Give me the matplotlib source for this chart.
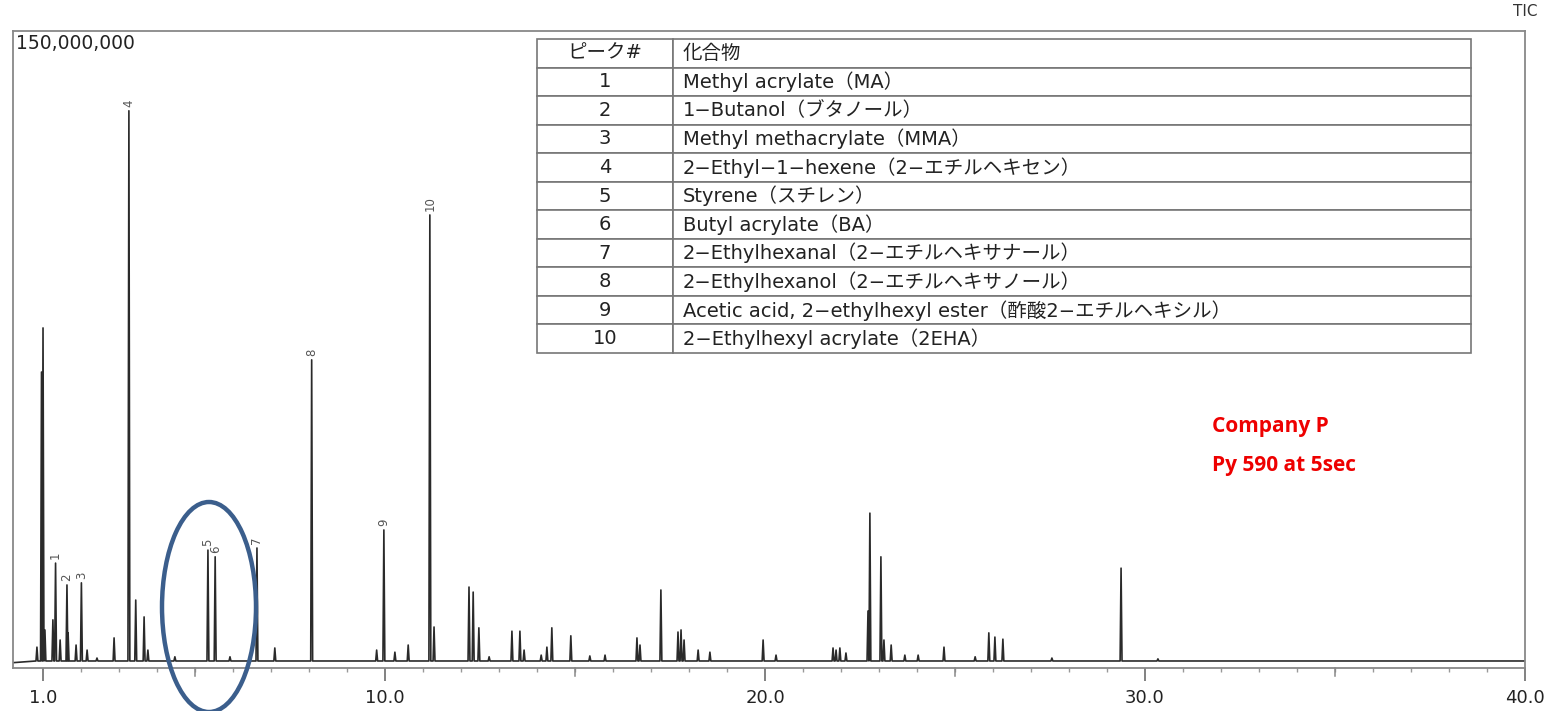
import matplotlib
matplotlib.use("Agg")
import matplotlib.pyplot as plt
from matplotlib.patches import Ellipse
from matplotlib.ticker import FixedLocator, FuncFormatter

plt.rcParams['font.family'] = ['DejaVu Sans', 'Noto Sans CJK JP']

# labelled peaks (retention time in min, TIC counts)
label_rt = [1.33, 1.63, 2.01, 3.26, 5.34, 5.53, 6.63, 8.07, 9.97, 11.18]
label_h = [23.3e6, 18.1e6, 18.6e6, 131.0e6, 26.4e6, 24.8e6, 26.9e6, 71.7e6, 31.2e6, 106.2e6]
label_num = ['1', '2', '3', '4', '5', '6', '7', '8', '9', '10']

# other peaks
other_rt = [0.84, 0.96, 1.00, 1.05, 1.26, 1.45, 1.66, 1.87, 2.16, 2.42, 2.87, 3.44, 3.66,
            3.76, 4.47, 5.92, 7.10, 9.78, 10.26, 10.61, 11.29, 12.21, 12.32, 12.47, 12.74,
            13.34, 13.55, 13.66, 14.11, 14.26, 14.39, 14.89, 15.39, 15.79, 16.63, 16.71,
            17.26, 17.71, 17.79, 17.87, 18.24, 18.55, 19.95, 20.29, 21.79, 21.87, 21.97,
            22.13, 22.71, 22.76, 23.05, 23.13, 23.32, 23.68, 24.03, 24.71, 25.53, 25.89,
            26.05, 26.26, 27.55, 29.37, 30.34]
other_h = [3.3e6, 68.8e6, 79.3e6, 7.4e6, 9.8e6, 5.0e6, 6.7e6, 3.8e6, 2.6e6, 0.7e6, 5.5e6,
           14.5e6, 10.5e6, 2.6e6, 1.0e6, 1.0e6, 3.1e6, 2.6e6, 2.1e6, 3.8e6, 8.1e6, 17.6e6,
           16.4e6, 7.9e6, 1.0e6, 7.1e6, 7.1e6, 2.6e6, 1.4e6, 3.3e6, 7.9e6, 6.0e6, 1.2e6,
           1.4e6, 5.5e6, 3.8e6, 16.9e6, 6.9e6, 7.4e6, 5.0e6, 2.6e6, 2.1e6, 5.0e6, 1.4e6,
           3.1e6, 2.6e6, 3.1e6, 1.9e6, 11.9e6, 35.2e6, 24.8e6, 5.0e6, 3.8e6, 1.4e6, 1.4e6,
           3.3e6, 1.0e6, 6.7e6, 5.7e6, 5.2e6, 0.7e6, 22.1e6, 0.5e6]

compounds = ['Methyl acrylate（MA）',
             '1−Butanol（ブタノール）',
             'Methyl methacrylate（MMA）',
             '2−Ethyl−1−hexene（2−エチルヘキセン）',
             'Styrene（スチレン）',
             'Butyl acrylate（BA）',
             '2−Ethylhexanal（2−エチルヘキサナール）',
             '2−Ethylhexanol（2−エチルヘキサノール）',
             'Acetic acid, 2−ethylhexyl ester（酢酸2−エチルヘキシル）',
             '2−Ethylhexyl acrylate（2EHA）']
header = ['ピーク#', '化合物']

# build the trace from the peak list
peaks = sorted(zip(label_rt + other_rt, label_h + other_h))
w = 0.025
xs = [0.21]
ys = [-0.4e6]
for t, h in peaks:
    xs += [t - w, t, t + w]
    ys += [0, h, 0]
xs.append(40.0)
ys.append(0)

fig = plt.figure(figsize=(15.51, 7.11), dpi=100)
ax = fig.add_axes([13 / 1551, (711 - 668) / 711, (1525 - 13) / 1551, (668 - 31) / 711])
ax.plot(xs, ys, color='#2a2a2a', lw=1.2)

for t, h, n in zip(label_rt, label_h, label_num):
    ax.text(t, h + 1.0e6, n, rotation=90, ha='center', va='bottom', fontsize=8.5, color='#555555')

ax.set_xlim(0.21, 40.0)
ax.set_ylim(-1.67e6, 150e6)

ax.xaxis.set_major_locator(FixedLocator([1, 10, 20, 30, 40]))
ax.xaxis.set_major_formatter(FuncFormatter(lambda v, p: f'{v:.1f}'))
ax.xaxis.set_minor_locator(FixedLocator([v for v in range(2, 40) if v % 10 != 0]))
ax.tick_params(axis='x', which='major', length=9, width=1.3, color='#777777',
               labelsize=13, labelcolor='#222222', pad=6)
ax.tick_params(axis='x', which='minor', length=3, width=1.0, color='#999999')
for t in [5, 15, 25, 35]:
    ax.plot([t, t], [0, -0.012], transform=ax.get_xaxis_transform(), color='#888888',
            lw=1.1, clip_on=False)
ax.set_yticks([])
for s in ax.spines.values():
    s.set_color('#888888')
    s.set_linewidth(1.3)

ax.text(0.002, 0.995, '150,000,000', transform=ax.transAxes, ha='left', va='top',
        fontsize=13.5, color='#222222')
fig.text(1525 / 1551, 1 - 12 / 711, 'TIC', ha='center', va='center', fontsize=11, color='#333333')

# compound table
cell_text = [[n, c] for n, c in zip(label_num, compounds)]
tbl = ax.table(cellText=cell_text, colLabels=header, cellLoc='left', colLoc='left',
               colWidths=[0.1456, 0.8544], bbox=[0.3466, 0.4945, 0.6177, 0.4929])
tbl.auto_set_font_size(False)
for (r, c), cell in tbl.get_celld().items():
    cell.set_edgecolor('#777777')
    cell.set_linewidth(1.2)
    cell.get_text().set_fontsize(14)
    cell.get_text().set_color('#222222')
    if c == 0:
        cell._loc = 'center'
        cell.get_text().set_ha('center')
    else:
        cell.PAD = 0.012

# annotation
fig.text(1212 / 1551, 1 - 427 / 711, 'Company P', fontsize=15, fontweight='bold',
         color='#ee0000', family='Open Sans', va='center')
fig.text(1212 / 1551, 1 - 466 / 711, 'Py 590 at 5sec', fontsize=15, fontweight='bold',
         color='#ee0000', family='Open Sans', va='center')
fig.patches.append(Ellipse((209 / 1551, 1 - 607 / 711), 94 / 1551, 210 / 711,
                           transform=fig.transFigure, fill=False, edgecolor='#3b5e8c', lw=3.2))

fig.savefig('out.png', dpi=100)
